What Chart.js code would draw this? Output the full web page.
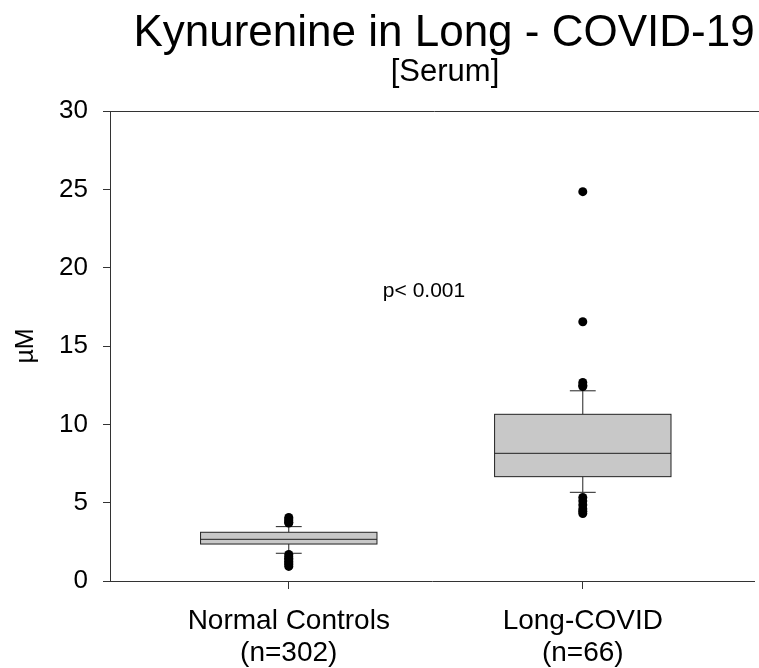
<!DOCTYPE html>
<html>
<head>
<meta charset="utf-8">
<script src="https://cdn.jsdelivr.net/npm/chart.js@4.4.1/dist/chart.umd.min.js"></script>
<style>
    html, body { margin: 0; padding: 0; background: #fff; }
    #wrap { width: 759px; height: 668px; }
</style>
</head>
<body>
<div id="wrap"><canvas id="myChart"></canvas></div>
<script>
const groups = ['Normal Controls', 'Long-COVID'];
const groupN = ['(n=302)', '(n=66)'];
const groupX = [1, 2];

// box stats
const whiskerLow = [1.77, 5.66];
const q1 = [2.36, 6.66];
const median = [2.66, 8.15];
const q3 = [3.11, 10.64];
const whiskerHigh = [3.47, 12.14];

const outliersNormal = [4.05, 3.95, 3.85, 3.75, 3.70, 1.69, 1.55, 1.45, 1.35, 1.25, 1.15, 1.05, 0.93];
const outliersLong = [24.85, 16.55, 12.67, 12.5, 12.41, 5.33, 5.1, 4.85, 4.6, 4.45, 4.31];

const yTicks = [0, 5, 10, 15, 20, 25, 30];

const FONT = "'Liberation Sans', Arial, sans-serif";

const boxPlugin = {
    id: 'boxes',
    beforeDatasetsDraw(chart) {
        const c = chart.ctx;
        const x = chart.scales.x, y = chart.scales.y;
        const half = 0.3, cap = 0.044;
        c.save();
        c.lineWidth = 1;
        c.strokeStyle = '#222';
        for (let i = 0; i < groupX.length; i++) {
            const l = x.getPixelForValue(groupX[i] - half);
            const r = x.getPixelForValue(groupX[i] + half);
            const cx = x.getPixelForValue(groupX[i]);
            const cl = x.getPixelForValue(groupX[i] - cap);
            const cr = x.getPixelForValue(groupX[i] + cap);
            const t = y.getPixelForValue(q3[i]);
            const b = y.getPixelForValue(q1[i]);
            const m = y.getPixelForValue(median[i]);
            const wl = y.getPixelForValue(whiskerLow[i]);
            const wh = y.getPixelForValue(whiskerHigh[i]);

            c.beginPath();
            c.moveTo(cx, t); c.lineTo(cx, wh);
            c.moveTo(cl, wh); c.lineTo(cr, wh);
            c.moveTo(cx, b); c.lineTo(cx, wl);
            c.moveTo(cl, wl); c.lineTo(cr, wl);
            c.stroke();

            c.fillStyle = '#c8c8c8';
            c.fillRect(l, t, r - l, b - t);
            c.strokeRect(l, t, r - l, b - t);
            c.beginPath();
            c.moveTo(l, m); c.lineTo(r, m);
            c.stroke();
        }
        c.restore();
    }
};

const textPlugin = {
    id: 'texts',
    afterDraw(chart) {
        const c = chart.ctx;
        const area = chart.chartArea;
        c.save();
        // top frame line
        c.strokeStyle = '#333';
        c.lineWidth = 1;
        c.beginPath();
        c.moveTo(area.left, Math.round(area.top) + 0.5);
        c.lineTo(chart.width, Math.round(area.top) + 0.5);
        c.stroke();

        c.fillStyle = '#000';
        c.textBaseline = 'alphabetic';
        c.textAlign = 'center';
        c.font = '44px ' + FONT;
        c.fillText('Kynurenine in Long - COVID-19', 444, 46);
        c.font = '31px ' + FONT;
        c.fillText('[Serum]', 445, 81);

        c.textAlign = 'left';
        c.font = '21px ' + FONT;
        c.fillText('p< 0.001', chart.scales.x.getPixelForValue(1.32), chart.scales.y.getPixelForValue(18.12));
        c.restore();
    }
};

const ctx = document.getElementById('myChart');

new Chart(ctx, {
    type: 'scatter',
    data: {
        datasets: [{
            label: groups[0],
            data: outliersNormal.map(v => ({x: groupX[0], y: v})),
            backgroundColor: '#000',
            borderWidth: 0,
            pointRadius: 4.5
        }, {
            label: groups[1],
            data: outliersLong.map(v => ({x: groupX[1], y: v})),
            backgroundColor: '#000',
            borderWidth: 0,
            pointRadius: 4.5
        }]
    },
    options: {
        animation: false,
        responsive: true,
        maintainAspectRatio: false,
        layout: {
            padding: {top: 111, left: 0, right: 0, bottom: 0}
        },
        plugins: {
            legend: {display: false},
            tooltip: {enabled: false}
        },
        scales: {
            x: {
                type: 'linear',
                min: 0.392,
                max: 2.584,
                afterBuildTicks: s => { s.ticks = groupX.map(v => ({value: v})); },
                afterFit: s => { s.height = 87; },
                ticks: {
                    autoSkip: false,
                    maxRotation: 0,
                    padding: 16,
                    color: '#000',
                    font: {family: FONT, size: 28, lineHeight: 1.15},
                    callback: v => {
                        const i = groupX.indexOf(v);
                        return i < 0 ? '' : [groups[i], groupN[i]];
                    }
                },
                grid: {drawOnChartArea: false, drawTicks: true, tickLength: 8, color: '#333'},
                border: {display: true, color: '#333'}
            },
            y: {
                min: 0,
                max: 30,
                afterBuildTicks: s => { s.ticks = yTicks.map(v => ({value: v})); },
                afterFit: s => { s.width = 110; },
                ticks: {
                    padding: 15,
                    color: '#000',
                    font: {family: FONT, size: 26}
                },
                title: {
                    display: true,
                    text: 'µM',
                    color: '#000',
                    padding: {top: 11, bottom: 0},
                    font: {family: FONT, size: 25}
                },
                grid: {drawOnChartArea: false, drawTicks: true, tickLength: 7, color: '#333'},
                border: {display: true, color: '#333'}
            }
        }
    },
    plugins: [boxPlugin, textPlugin]
});
</script>
</body>
</html>
